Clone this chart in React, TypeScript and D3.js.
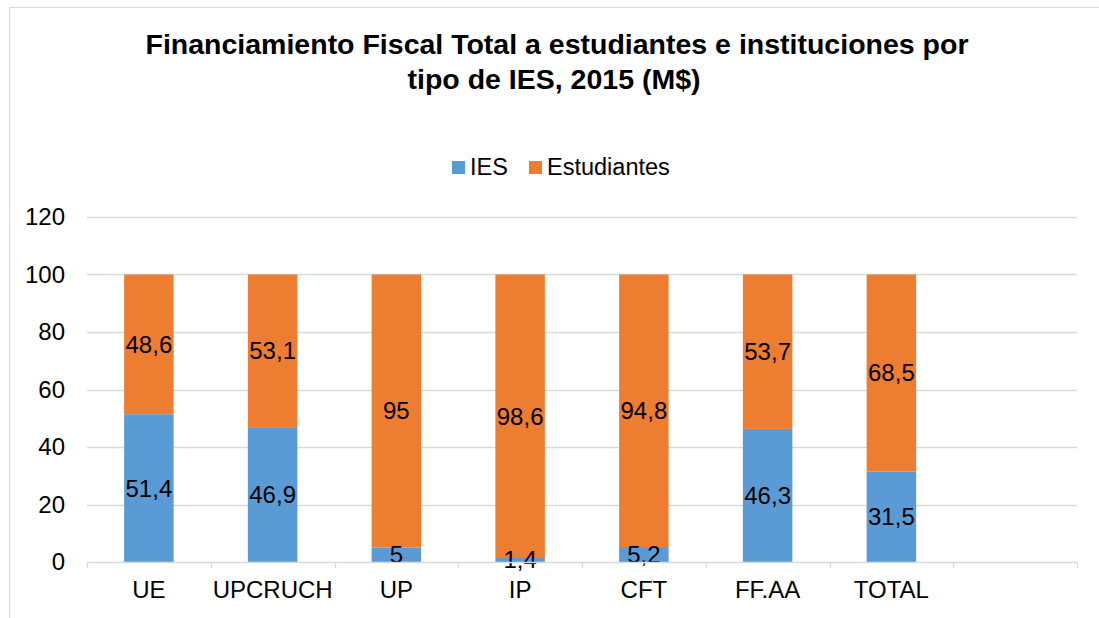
import React from "react";
import { useEffect, useRef } from "react";
import * as d3 from "d3";

// chart data
const categories = ["UE", "UPCRUCH", "UP", "IP", "CFT", "FF.AA", "TOTAL", ""];
const iesValues = [51.4, 46.9, 5, 1.4, 5.2, 46.3, 31.5];
const estudiantesValues = [48.6, 53.1, 95, 98.6, 94.8, 53.7, 68.5];
const yTicks = [0, 20, 40, 60, 80, 100, 120];
const seriesNames = ["IES", "Estudiantes"];

const App: React.FC = () => {
  const svgRef = useRef<SVGSVGElement | null>(null);
  const width = 1099;
  const height = 618;
  const margin = { top: 217, right: 22, bottom: 56, left: 87 }; // plot area
  const blue = "#5B9BD5";
  const orange = "#ED7D31";
  const gridColor = "#D9D9D9";
  const font = "'Liberation Sans', Arial, sans-serif";

  useEffect(() => {
    if (!svgRef.current) return;
    const svg = d3.select(svgRef.current);
    svg.selectAll("*").remove();

    const innerW = width - margin.left - margin.right;
    const innerH = height - margin.top - margin.bottom;

    // outer chart border (cut off at right and bottom)
    svg
      .append("rect")
      .attr("x", 9.5)
      .attr("y", 7.5)
      .attr("width", width + 20)
      .attr("height", height + 20)
      .attr("fill", "none")
      .attr("stroke", gridColor)
      .attr("stroke-width", 1);

    // title
    const title = svg
      .append("text")
      .attr("text-anchor", "middle")
      .style("font-family", font)
      .style("font-size", "28.5px")
      .style("font-weight", "bold")
      .attr("fill", "#000");
    title
      .append("tspan")
      .attr("x", 557)
      .attr("y", 54)
      .text("Financiamiento Fiscal Total a estudiantes e instituciones por");
    title
      .append("tspan")
      .attr("x", 554)
      .attr("y", 89)
      .text("tipo de IES, 2015 (M$)");

    // legend
    const legend = svg.append("g").style("font-family", font);
    const legendItems = [
      { x: 452, color: blue, name: seriesNames[0] },
      { x: 529, color: orange, name: seriesNames[1] },
    ];
    legendItems.forEach((d) => {
      legend
        .append("rect")
        .attr("x", d.x)
        .attr("y", 161)
        .attr("width", 13)
        .attr("height", 13)
        .attr("fill", d.color);
      legend
        .append("text")
        .attr("x", d.x + 18)
        .attr("y", 175)
        .style("font-size", "23.5px")
        .attr("fill", "#000")
        .text(d.name);
    });

    const chart = svg
      .append("g")
      .attr("transform", `translate(${margin.left},${margin.top})`);

    const xScale = d3
      .scaleBand()
      .domain(categories.map((_c, i) => String(i)))
      .range([0, innerW])
      .paddingInner(0.6)
      .paddingOuter(0.3);
    const step = xScale.step();

    const yScale = d3.scaleLinear().domain([0, 120]).range([innerH, 0]);

    // horizontal gridlines
    chart
      .selectAll(".grid")
      .data(yTicks.filter((t) => t > 0))
      .enter()
      .append("line")
      .attr("x1", 0)
      .attr("x2", innerW)
      .attr("y1", (d) => Math.round(yScale(d)) + 0.5)
      .attr("y2", (d) => Math.round(yScale(d)) + 0.5)
      .attr("stroke", gridColor)
      .attr("stroke-width", 1.3);

    // y tick labels
    chart
      .selectAll(".ylabel")
      .data(yTicks)
      .enter()
      .append("text")
      .attr("x", -22)
      .attr("y", (d) => yScale(d))
      .attr("dy", "0.35em")
      .attr("text-anchor", "end")
      .style("font-family", font)
      .style("font-size", "24px")
      .attr("fill", "#000")
      .text((d) => d);

    // stacked bars
    const bars = categories.slice(0, iesValues.length).map((c, i) => ({
      key: String(i),
      name: c,
      ies: iesValues[i],
      est: estudiantesValues[i],
    }));

    chart
      .selectAll(".bar-ies")
      .data(bars)
      .enter()
      .append("rect")
      .attr("x", (d) => xScale(d.key) as number)
      .attr("y", (d) => yScale(d.ies))
      .attr("width", xScale.bandwidth())
      .attr("height", (d) => innerH - yScale(d.ies))
      .attr("fill", blue);

    chart
      .selectAll(".bar-est")
      .data(bars)
      .enter()
      .append("rect")
      .attr("x", (d) => xScale(d.key) as number)
      .attr("y", (d) => yScale(d.ies + d.est))
      .attr("width", xScale.bandwidth())
      .attr("height", (d) => yScale(d.ies) - yScale(d.ies + d.est))
      .attr("fill", orange);

    // data labels
    const fmt = (v: number) => String(v).replace(".", ",");
    const addLabels = (getMid: (d: any) => number, getVal: (d: any) => number) => {
      chart
        .append("g")
        .selectAll("text")
        .data(bars)
        .enter()
        .append("text")
        .attr("x", (d) => (xScale(d.key) as number) + xScale.bandwidth() / 2)
        .attr("y", (d) => yScale(getMid(d)))
        .attr("dy", "0.35em")
        .attr("text-anchor", "middle")
        .style("font-family", font)
        .style("font-size", "24px")
        .attr("fill", "#000")
        .text((d) => fmt(getVal(d)));
    };
    addLabels((d) => d.ies / 2, (d) => d.ies);
    addLabels((d) => d.ies + d.est / 2, (d) => d.est);

    // x axis line and ticks at band boundaries
    chart
      .append("line")
      .attr("x1", 0)
      .attr("x2", innerW)
      .attr("y1", innerH + 0.5)
      .attr("y2", innerH + 0.5)
      .attr("stroke", gridColor)
      .attr("stroke-width", 1.3);

    chart
      .selectAll(".xtick")
      .data(d3.range(categories.length + 1))
      .enter()
      .append("line")
      .attr("x1", (i) => Math.round(i * step) + 0.5)
      .attr("x2", (i) => Math.round(i * step) + 0.5)
      .attr("y1", innerH)
      .attr("y2", innerH + 6)
      .attr("stroke", gridColor)
      .attr("stroke-width", 1.3);

    // x labels
    chart
      .selectAll(".xlabel")
      .data(categories)
      .enter()
      .append("text")
      .attr("x", (_c, i) => (xScale(String(i)) as number) + xScale.bandwidth() / 2)
      .attr("y", innerH + 36)
      .attr("text-anchor", "middle")
      .style("font-family", font)
      .style("font-size", "24px")
      .attr("fill", "#000")
      .text((c) => c);
  }, []);

  return (
    <svg
      ref={svgRef}
      width={width}
      height={height}
      style={{ position: "absolute", left: 0, top: 0, background: "#fff" }}
    ></svg>
  );
};

export default App;
